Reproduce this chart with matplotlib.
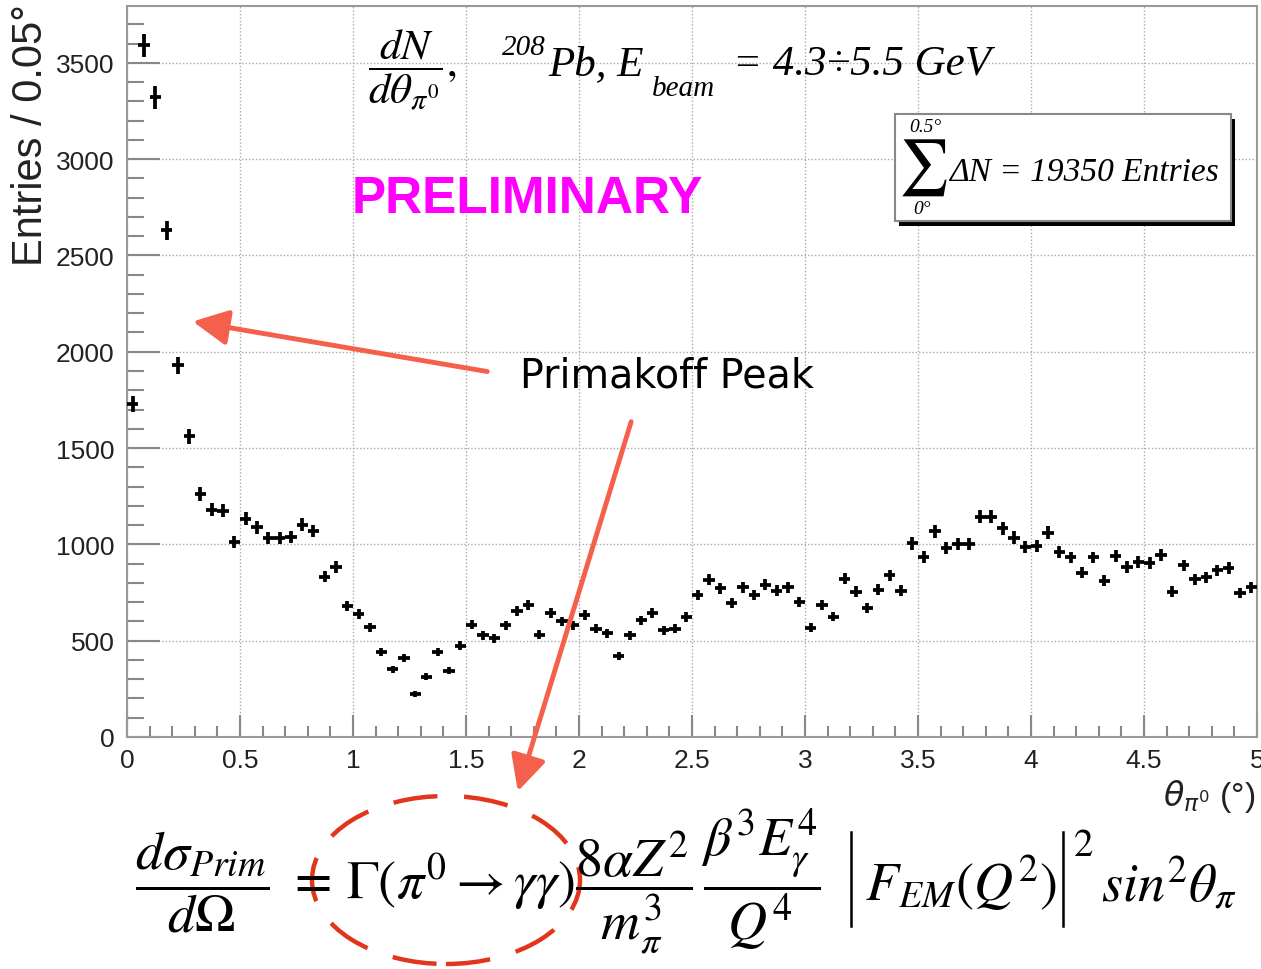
import numpy as np
import matplotlib
matplotlib.use('Agg')
import matplotlib.pyplot as plt
from matplotlib.patches import Ellipse, Rectangle
from matplotlib.lines import Line2D

W, H, DPI = 1261, 970, 100

# histogram: 100 bins of 0.05 deg between 0 and 5 deg
bin_width = 0.05
theta = np.arange(100) * bin_width + bin_width / 2
entries = np.array([
    1730, 3590, 3320, 2630, 1930, 1562, 1260, 1181, 1175, 1014,
    1133, 1088, 1032, 1032, 1037, 1102, 1070, 833, 882, 681,
    637, 570, 439, 351, 412, 225, 312, 439, 344, 475,
    584, 527, 512, 580, 656, 686, 530, 645, 601, 580,
    633, 562, 539, 420, 527, 606, 642, 553, 562, 624,
    738, 817, 771, 695, 777, 737, 790, 760, 777, 702,
    567, 684, 625, 821, 754, 672, 765, 839, 760, 1005,
    935, 1067, 982, 1002, 1002, 1143, 1143, 1084, 1035, 988,
    991, 1061, 961, 932, 853, 932, 812, 940, 882, 909,
    904, 944, 754, 891, 818, 830, 865, 877, 747, 777,
])
errors = np.sqrt(entries)

x_ticks = np.arange(0, 5.01, 0.5)
x_tick_labels = ['0', '0.5', '1', '1.5', '2', '2.5', '3', '3.5', '4', '4.5', '5']
y_ticks = np.arange(0, 3501, 500)
total_entries = 19350

plt.rcParams['font.family'] = ['Liberation Sans', 'DejaVu Sans']
plt.rcParams['mathtext.fontset'] = 'stix'

ARROW = '#f5604c'
ELL = '#e2361c'
SERIF_IT = dict(family='Liberation Serif', style='italic')


def px(x, y):
    """pixel position (from top-left) -> figure fraction"""
    return x / W, 1 - y / H


fig = plt.figure(figsize=(W / DPI, H / DPI), dpi=DPI)
ax = fig.add_axes([127 / W, 1 - 738 / H, 1130 / W, 731 / H])

ax.errorbar(theta, entries, xerr=bin_width / 2, yerr=errors, fmt='none',
            ecolor='black', elinewidth=2.7, capsize=0, zorder=3)

ax.set_xlim(0, 5)
ax.set_ylim(0, 3795)
ax.set_xticks(x_ticks)
ax.set_xticklabels(x_tick_labels)
ax.set_xticks(np.arange(0, 5.01, 0.1), minor=True)
ax.set_yticks(y_ticks)
ax.set_yticks(np.arange(0, 3795, 100), minor=True)
ax.grid(True, which='major', color='#aaaaaa', linestyle=(0, (1, 1.5)), lw=1)
ax.tick_params(axis='y', which='major', direction='in', length=24, width=1.5,
               color='#888888', labelsize=19, pad=9, labelcolor='#222222')
ax.tick_params(axis='y', which='minor', direction='in', length=12, width=1.5,
               color='#888888')
ax.tick_params(axis='x', which='major', direction='in', length=16, width=1.5,
               color='#888888', labelsize=19, pad=8, labelcolor='#222222')
ax.tick_params(axis='x', which='minor', direction='in', length=8, width=1.5,
               color='#888888')
for s in ax.spines.values():
    s.set_color('#999999')
    s.set_linewidth(1.5)

# axis titles, ROOT style
fig.text(*px(31, 4), 'Entries / 0.05°', rotation=90, ha='center', va='top',
         fontsize=30, color='#222222')
fig.text(*px(1255, 797), r'$\theta_{\pi^0}$ (°)', ha='right', va='center',
         fontsize=24, math_fontfamily='dejavusans', color='#222222')

# header
fig.text(*px(412, 70), r'$\dfrac{dN}{d\theta_{\pi^0}},$', ha='center', va='center',
         fontsize=31)
fig.text(*px(502, 55), '208', ha='left', va='baseline', fontsize=21, **SERIF_IT)
fig.text(*px(548, 75), 'Pb, E', ha='left', va='baseline', fontsize=31, **SERIF_IT)
fig.text(*px(652, 96), 'beam', ha='left', va='baseline', fontsize=21, **SERIF_IT)
fig.text(*px(733, 75), '= 4.3÷5.5 GeV', ha='left', va='baseline', fontsize=31,
         **SERIF_IT)

fig.text(*px(527, 200), 'PRELIMINARY', ha='center', va='center', fontsize=37,
         fontweight='bold', color='#ff00ff')

# entries box with shadow
ax.add_patch(Rectangle(((899 - 127) / 1130, (738 - 227) / 731), 336 / 1130, 107 / 731,
                       transform=ax.transAxes, facecolor='black', edgecolor='none',
                       zorder=4))
ax.add_patch(Rectangle(((895 - 127) / 1130, (738 - 222) / 731), 336 / 1130, 107 / 731,
                       transform=ax.transAxes, facecolor='white', edgecolor='#888888',
                       lw=1.5, zorder=5))
fig.text(*px(923, 168), r'$\sum$', ha='center', va='center', fontsize=40, zorder=6)
fig.text(*px(925, 127), '0.5°', ha='center', va='center', fontsize=14, zorder=6,
         **SERIF_IT)
fig.text(*px(922, 210), '0°', ha='center', va='center', fontsize=14, zorder=6,
         **SERIF_IT)
fig.text(*px(949, 181), 'ΔN = %d Entries' % total_entries, ha='left', va='baseline',
         fontsize=24, zorder=6, **SERIF_IT)

# annotation
fig.text(*px(667, 377), 'Primakoff Peak', ha='center', va='center', fontsize=28.5,
         family='DejaVu Sans')
ax.annotate('', xy=(190, H - 322), xytext=(490, H - 373), xycoords='figure pixels',
            textcoords='figure pixels',
            arrowprops=dict(arrowstyle='-|>,head_length=0.9,head_width=0.45',
                            mutation_scale=24, lw=3.5, color=ARROW))
ax.annotate('', xy=(517, H - 795), xytext=(632, H - 420), xycoords='figure pixels',
            textcoords='figure pixels',
            arrowprops=dict(arrowstyle='-|>,head_length=0.9,head_width=0.45',
                            mutation_scale=24, lw=3.5, color=ARROW))

# Primakoff cross-section formula
fig.text(*px(135, 883),
         r'$\dfrac{d\sigma_{Prim}}{d\Omega}\ =\,\Gamma(\pi^0\rightarrow\gamma\gamma)'
         r'\dfrac{8\alpha Z^2}{m_\pi^3}\,\dfrac{\beta^3E_\gamma^4}{Q^4}$',
         ha='left', va='center', fontsize=39)
fig.text(*px(865, 884), r'$F_{EM}(Q^2)$', ha='left', va='center', fontsize=39)
fig.text(*px(1083, 846), r'$2$', ha='center', va='center', fontsize=28)
fig.text(*px(1101, 884), r'$sin^2\theta_\pi$', ha='left', va='center', fontsize=39)
for xb in (851, 1063):
    fig.add_artist(Line2D([xb / W, xb / W], [1 - 833 / H, 1 - 927 / H],
                          transform=fig.transFigure, color='black', lw=1.8))

fig.add_artist(Ellipse(px(446, 881), 268 / W, 168 / H, transform=fig.transFigure,
                       fill=False, edgecolor=ELL, lw=3.2, linestyle=(0, (10, 6))))

fig.savefig('out.png', dpi=DPI)
